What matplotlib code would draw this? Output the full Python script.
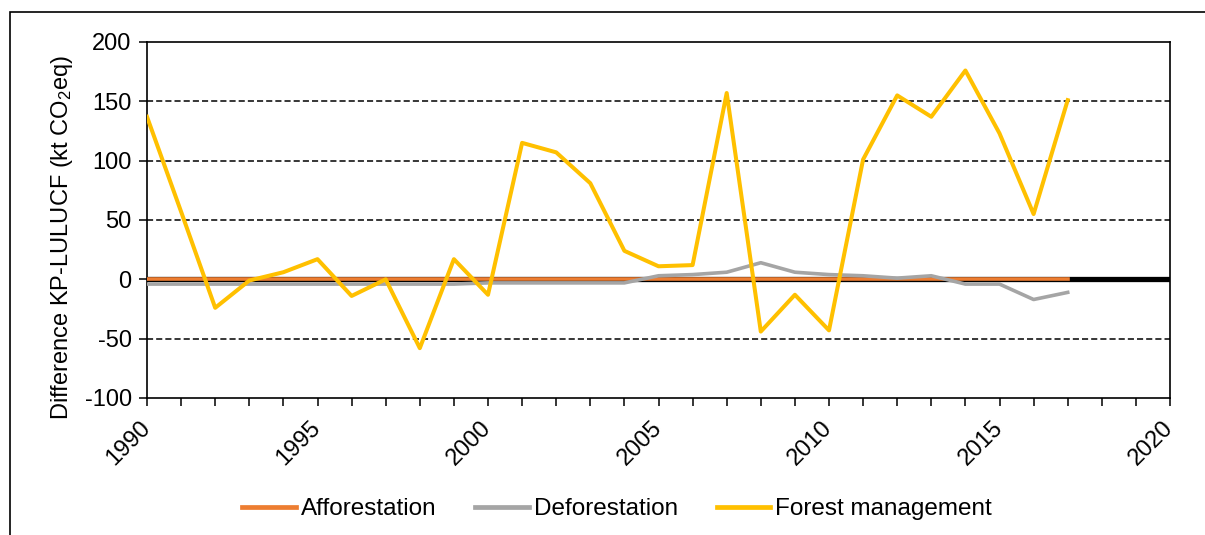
# Difference KP-LULUCF by activity, 1990-2017

import matplotlib.pyplot as plt
from matplotlib.patches import Rectangle

years = list(range(1990, 2018))
afforestation = [0] * 28
deforestation = [-4, -4, -4, -4, -4, -4, -4, -4, -4, -4,
                 -3, -3, -3, -3, -3, 3, 4, 6, 14, 6,
                 4, 3, 1, 3, -4, -4, -17, -11]
forest_mgmt = [137, 57, -24, -1, 6, 17, -14, 0, -58, 17,
               -13, 115, 107, 81, 24, 11, 12, 157, -44, -13,
               -43, 101, 155, 137, 176, 123, 55, 151]

plt.rcParams['font.family'] = ['Liberation Sans', 'DejaVu Sans']
plt.rcParams['mathtext.default'] = 'regular'
plt.rcParams['axes.unicode_minus'] = False

fig = plt.figure(figsize=(12.05, 5.35), dpi=100)
ax = fig.add_axes([147 / 1205, 1 - 398 / 535, 1023 / 1205, 356 / 535])

# outer chart border (runs off the right and bottom edge)
fig.patches.append(Rectangle((10 / 1205, -0.1), 1.2, 1 - 12 / 535 + 0.1,
                             transform=fig.transFigure, fill=False,
                             edgecolor='black', linewidth=1.2))

for g in [-50, 50, 100, 150]:
    ax.axhline(g, color='black', linewidth=1.1, linestyle=(0, (4, 2)), zorder=1)
ax.axhline(0, color='black', linewidth=3.8, zorder=2)

ax.plot(years, afforestation, color='#ED7D31', linewidth=2.6, label='Afforestation', zorder=3)
ax.plot(years, deforestation, color='#A5A5A5', linewidth=2.6, label='Deforestation', zorder=3)
ax.plot(years, forest_mgmt, color='#FFC000', linewidth=2.9, label='Forest management', zorder=4)

ax.set_xlim(1990, 2020)
ax.set_ylim(-100, 200)
ax.set_yticks(range(-100, 201, 50))
ax.set_xticks(range(1990, 2021))
ax.set_xticklabels([str(y) if y % 5 == 0 else '' for y in range(1990, 2021)],
                   rotation=45, ha='right', va='center', rotation_mode='anchor')
ax.tick_params(axis='both', direction='out', length=6, width=1.1, labelsize=17, pad=5)
ax.tick_params(axis='x', pad=13)
for s in ax.spines.values():
    s.set_linewidth(1.2)

fig.text(62 / 1205, 1 - 237 / 535, 'Difference KP-LULUCF (kt CO$_2$eq)',
         rotation=90, ha='center', va='center', fontsize=17)

leg = fig.legend(loc='center', bbox_to_anchor=(617 / 1205, 1 - 509 / 535), ncol=3,
                 frameon=False, fontsize=17.5, handlelength=2.2, handletextpad=0.2,
                 columnspacing=1.6)
for h in leg.get_lines():
    h.set_linewidth(3.4)

plt.savefig('out.png', dpi=100)
